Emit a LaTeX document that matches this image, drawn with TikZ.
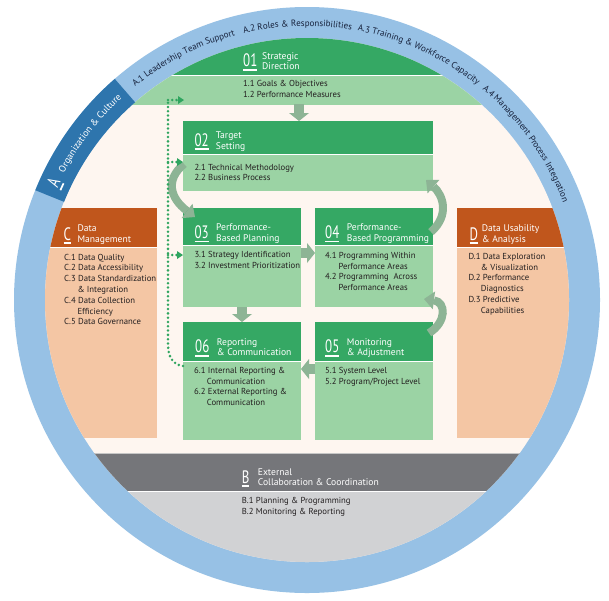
\documentclass[tikz,border=0pt]{standalone}
\usepackage{fontspec}
\setmainfont{PT Sans}
\usepackage{graphicx}
\usetikzlibrary{arrows.meta,decorations.text,calc}
\definecolor{ringblue}{HTML}{97C1E5}
\definecolor{darkblue}{HTML}{2E75AD}
\definecolor{hdrgreen}{HTML}{35A864}
\definecolor{bodygreen}{HTML}{9BD3A4}
\definecolor{cream}{HTML}{FEF6F0}
\definecolor{hdrorange}{HTML}{C0561C}
\definecolor{peach}{HTML}{F4C6A4}
\definecolor{darkgray}{HTML}{75767A}
\definecolor{lightgray}{HTML}{D1D2D4}
\definecolor{arrowgreen}{HTML}{8DB495}
\definecolor{dotgreen}{HTML}{2FA55F}
\definecolor{inktext}{HTML}{231F20}
\definecolor{ringtext}{HTML}{15203A}
\newcommand\bignum[1]{\setbox0\hbox{\scalebox{0.72}[1]{\fontsize{18}{18}\selectfont #1}}\rlap{\rule[-4pt]{\wd0}{1.7pt}}\box0}
\tikzset{
  box/.style={anchor=north west, inner sep=0pt, outer sep=0pt},
  hdr/.style={box, fill=hdrgreen},
  body/.style={box, fill=bodygreen},
  sep/.style={white, line width=0.8pt},
  bt/.style={anchor=base west, inner sep=0pt, text=inktext, font=\fontsize{8.7}{10}\selectfont},
  tt/.style={anchor=base west, inner sep=0pt, text=white, font=\fontsize{9.6}{11}\selectfont},
  nt/.style={anchor=base west, inner sep=0pt, text=white},
  barrow/.style={draw=arrowgreen, line width=10pt, -{Triangle[length=8pt,width=20pt,line width=0pt]}},
  carrow/.style={draw=arrowgreen, line width=8pt, -{Triangle[length=10pt,width=18pt,line width=0pt]}},
  dotline/.style={draw=dotgreen, line width=2.8pt, line cap=round, dash pattern=on 0pt off 4.3pt},
  dotarrow/.style={dotline, -{Triangle[length=6pt,width=8pt,line width=0pt]}},
  ringlabel/.style={decorate, decoration={text along path, text align=center, text color=ringtext, text={|\fontsize{9}{10}\selectfont|#1}}},
}
\begin{document}
\begin{tikzpicture}[x=1pt,y=-1pt]
\useasboundingbox (0,0) rectangle (609,600);
\fill[white] (0,0) rectangle (609,600);
% ring
\fill[ringblue] (307,300) circle (293pt);
\begin{scope}
  \clip (307,300) circle (262pt);
  \fill[cream] (0,0) rectangle (609,600);
  \fill[hdrgreen] (0,0) rectangle (609,75);
  \fill[bodygreen] (0,75) rectangle (609,105);
  \draw[sep] (0,75) -- (609,75);
  % C
  \fill[hdrorange] (0,208) rectangle (157,247);
  \fill[peach] (0,247) rectangle (157,438);
  \draw[sep] (0,247) -- (157,247);
  % D
  \fill[hdrorange] (457,208) rectangle (609,247);
  \fill[peach] (457,247) rectangle (609,438);
  \draw[sep] (457,247) -- (609,247);
  % B
  \fill[darkgray] (0,453) rectangle (609,491);
  \fill[lightgray] (0,491) rectangle (609,600);
  \draw[gray!45, line width=1pt] (0,453.5) -- (609,453.5);
  \draw[sep] (0,491) -- (609,491);
\end{scope}
% ring labels
\begin{scope}[shift={(307,300)}, y=1pt]
  \fill[darkblue] (131:262pt) arc[start angle=131, end angle=158, radius=262pt] -- (158:293pt) arc[start angle=158, end angle=131, radius=293pt] -- cycle;
  \node[text=white, rotate=65.3, inner sep=0pt] (ringA) at (155.2:277.5pt) {\bignum{A}};
  \path[decorate, decoration={text along path, text align=center, text color=white, text={|\fontsize{9.6}{10}\selectfont|Organization {\&} Culture}}] (166:274pt) arc[start angle=166, end angle=119, radius=274pt];
  \path[ringlabel={A.1 Leadership Team {Support}}] (140:274pt) arc[start angle=140, end angle=94, radius=274pt];
  \path[ringlabel={A.2 Roles {\&} Responsibilities}] (115:274pt) arc[start angle=115, end angle=69, radius=274pt];
  \path[ringlabel={A.3 Training {\&} Workforce Capacity}] (89:274pt) arc[start angle=89, end angle=42, radius=274pt];
  \path[ringlabel={A.4 Management {Process} Integration}] (62:274pt) arc[start angle=62, end angle=9, radius=274pt];
\end{scope}
% boxes
\node[hdr, minimum width=250pt, minimum height=33pt] (h02) at (183,121) {};
\node[body, minimum width=250pt, minimum height=37pt] (b02) at (183,154) {};
\node[hdr, minimum width=118pt, minimum height=37pt] (h03) at (183,208) {};
\node[body, minimum width=118pt, minimum height=62pt] (b03) at (183,245) {};
\node[hdr, minimum width=118pt, minimum height=37pt] (h04) at (315,208) {};
\node[body, minimum width=118pt, minimum height=62pt] (b04) at (315,245) {};
\node[hdr, minimum width=118pt, minimum height=39pt] (h06) at (183,322) {};
\node[body, minimum width=118pt, minimum height=79pt] (b06) at (183,361) {};
\node[hdr, minimum width=118pt, minimum height=39pt] (h05) at (315,322) {};
\node[body, minimum width=118pt, minimum height=79pt] (b05) at (315,361) {};
\foreach \b in {b02,b03,b04,b06,b05}{\draw[sep] (\b.north west) -- (\b.north east);}
% block arrows
\coordinate (band01) at (299,104);
\draw[barrow] (band01) -- (band01 |- h02.north);
\draw[barrow] ($(b03.north east)+(0,8)$) -- ($(b04.north west)+(0,8)$);
\draw[barrow] (b03.south) -- (h06.north);
\draw[barrow] ($(b05.north west)+(0,8)$) -- ($(b06.north east)+(0,8)$);
\draw[carrow] ($(b02.north west)+(1,10)$) .. controls (165,180) and (170,198) .. ($(h03.north west)+(12,9)$);
\draw[carrow] ($(h04.north east)+(-2,24)$) .. controls (450,215) and (443,195) .. ($(b02.south east)+(-7,-11)$);
\draw[carrow] ($(h05.north east)+(-4,11)$) .. controls (447,322) and (446,302) .. ($(b04.south east)+(-9,-8)$);
% dotted feedback line
\coordinate (dtop) at (168,100);
\coordinate (d02) at (168,162);
\coordinate (d03) at (168,255);
\coordinate (t01) at (184,100);
\draw[dotline] ($(b06.north west)+(0,5)$) .. controls (174,365) and (168,358) .. (168,345) -- (dtop);
\draw[dotarrow] (dtop) -- (t01);
\draw[dotarrow] (d02) -- (d02 -| b02.west);
\draw[dotarrow] (d03) -- (d03 -| b03.west);
% texts 01
\node[nt] (n01) at (243,66.7) {\bignum{01}};
\node[tt] (s01a) at (262,59.2) {Strategic};
\node[tt] (s01b) at (262,69.9) {Direction};
\node[bt] (t01a) at (243,86.7) {1.1 Goals \& Objectives};
\node[bt] (t01b) at (243,97.5) {1.2 Performance Measures};
% 02
\node[nt] (n02) at (194.3,146) {\bignum{02}};
\node[tt] (s02a) at (215.7,138.5) {Target};
\node[tt] (s02b) at (215.7,149) {Setting};
\node[bt] (t02a) at (194.3,170) {2.1 Technical Methodology};
\node[bt] (t02b) at (194.3,180.8) {2.2 Business Process};
% 03
\node[nt] (n03) at (194.3,238.3) {\bignum{03}};
\node[tt] (s03a) at (216,230.5) {Performance-};
\node[tt] (s03b) at (216,241) {Based Planning};
\node[bt] (t03a) at (194.3,257.7) {3.1 Strategy Identification};
\node[bt] (t03b) at (194.3,268.4) {3.2 Investment Prioritization};
% 04
\node[nt] (n04) at (325,238.3) {\bignum{04}};
\node[tt] (s04a) at (346.7,230.5) {Performance-};
\node[tt] (s04b) at (346.7,241) {Based Programming};
\node[bt] (t04a) at (325,258.3) {4.1 Programming Within};
\node[bt] (t04b) at (338.3,269) {Performance Areas};
\node[bt] (t04c) at (325,279.8) {4.2 Programming~ Across};
\node[bt] (t04d) at (338.3,290.6) {Performance Areas};
% 06
\node[nt] (n06) at (195,352.7) {\bignum{06}};
\node[tt] (s06a) at (216.7,345.2) {Reporting};
\node[tt] (s06b) at (216.7,355.8) {\& Communication};
\node[bt] (t06a) at (194,373.3) {6.1 Internal Reporting \&};
\node[bt] (t06b) at (206.7,384) {Communication};
\node[bt] (t06c) at (194,394.8) {6.2 External Reporting \&};
\node[bt] (t06d) at (206.7,405.6) {Communication};
% 05
\node[nt] (n05) at (325,352.7) {\bignum{05}};
\node[tt] (s05a) at (346.7,345.2) {Monitoring};
\node[tt] (s05b) at (346.7,355.8) {\& Adjustment};
\node[bt] (t05a) at (325,373.3) {5.1 System Level};
\node[bt] (t05b) at (325,384) {5.2 Program/Project Level};
% C
\node[nt] (nC) at (63.3,240) {\bignum{C}};
\node[tt] (sCa) at (77.3,231.5) {Data};
\node[tt] (sCb) at (77.3,242) {Management};
\node[bt] (tCa) at (64,260) {C.1 Data Quality};
\node[bt] (tCb) at (64,270.8) {C.2 Data Accessibility};
\node[bt] (tCc) at (64,281.6) {C.3 Data Standardization};
\node[bt] (tCd) at (77.3,292.4) {\& Integration};
\node[bt] (tCe) at (64,303.2) {C.4 Data Collection};
\node[bt] (tCf) at (77.3,314) {Efficiency};
\node[bt] (tCg) at (64,324.8) {C.5 Data Governance};
% D
\node[nt] (nD) at (469.3,240) {\bignum{D}};
\node[tt] (sDa) at (481.7,231.5) {Data Usability};
\node[tt] (sDb) at (481.7,242) {\& Analysis};
\node[bt] (tDa) at (468.3,259.3) {D.1 Data Exploration};
\node[bt] (tDb) at (480.7,270) {\& Visualization};
\node[bt] (tDc) at (468.3,280.8) {D.2 Performance};
\node[bt] (tDd) at (480.7,291.6) {Diagnostics};
\node[bt] (tDe) at (468.3,302.4) {D.3 Predictive};
\node[bt] (tDf) at (480.7,313.2) {Capabilities};
% B
\node[nt] (nB) at (241.7,483) {\bignum{B}};
\node[tt] (sBa) at (257.7,475.2) {External};
\node[tt] (sBb) at (257.7,485.8) {Collaboration \& Coordination};
\node[bt] (tBa) at (241.7,503.3) {B.1 Planning \& Programming};
\node[bt] (tBb) at (241.7,514.2) {B.2 Monitoring \& Reporting};
\end{tikzpicture}
\end{document}
